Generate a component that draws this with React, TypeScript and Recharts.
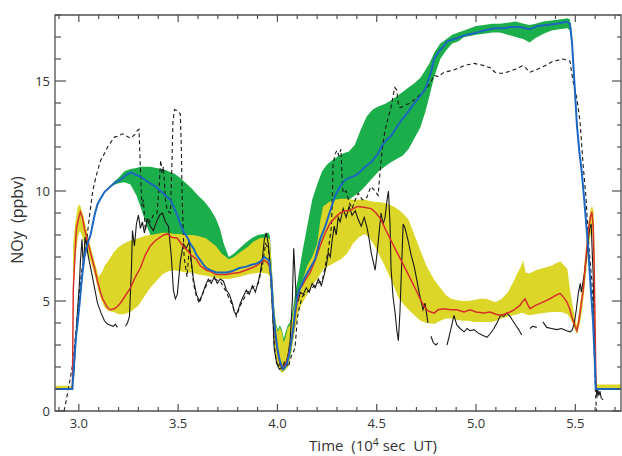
import React from "react";
import {
  ComposedChart,
  Area,
  Line,
  XAxis,
  YAxis,
  ReferenceArea
} from "recharts";

// model NOy, blue curve (x in 10^4 s UT, y in ppbv)
const blueModel: [number, number][] = [
  [2.88, 1.0], [2.967, 1.0], [2.975, 2.0], [2.985, 3.3], [2.995, 4.1], [3.005, 5.0], [3.015, 6.0],
  [3.028, 7.0], [3.043, 7.6], [3.059, 8.0], [3.079, 8.9], [3.094, 9.4], [3.109, 9.65], [3.129, 9.95],
  [3.159, 10.2], [3.185, 10.4], [3.209, 10.5], [3.235, 10.7], [3.26, 10.85], [3.285, 10.75], [3.31, 10.65],
  [3.335, 10.5], [3.36, 10.35], [3.386, 10.2], [3.411, 10.0], [3.436, 9.8], [3.461, 9.6], [3.476, 9.3],
  [3.496, 8.9], [3.511, 8.5], [3.53, 8.1], [3.546, 7.9], [3.561, 7.6], [3.577, 7.4], [3.592, 7.1],
  [3.612, 6.85], [3.627, 6.65], [3.642, 6.5], [3.662, 6.4], [3.692, 6.3], [3.72, 6.3], [3.743, 6.3],
  [3.77, 6.35], [3.808, 6.5], [3.84, 6.55], [3.87, 6.65], [3.894, 6.7], [3.915, 6.8], [3.934, 7.0],
  [3.949, 6.9], [3.959, 6.8], [3.969, 6.0], [3.979, 4.5], [3.989, 3.6], [3.999, 2.9], [4.009, 2.4],
  [4.019, 2.1], [4.029, 1.9], [4.039, 2.0], [4.049, 2.2], [4.06, 2.6], [4.07, 3.2], [4.08, 3.8],
  [4.09, 4.6], [4.1, 5.2], [4.11, 5.5], [4.125, 5.8], [4.14, 6.1], [4.165, 6.5], [4.19, 6.9],
  [4.215, 7.8], [4.241, 8.4], [4.266, 9.1], [4.291, 9.8], [4.316, 10.2], [4.341, 10.5], [4.361, 10.6],
  [4.392, 10.7], [4.407, 10.8], [4.442, 11.1], [4.472, 11.3], [4.507, 11.7], [4.522, 12.0], [4.557, 12.4],
  [4.572, 12.5], [4.608, 13.0], [4.623, 13.2], [4.658, 13.6], [4.673, 13.8], [4.708, 14.2], [4.743, 14.6],
  [4.773, 15.4], [4.789, 16.0], [4.809, 16.3], [4.839, 16.6], [4.854, 16.8], [4.889, 16.9], [4.919, 17.0],
  [4.955, 17.1], [5.005, 17.2], [5.04, 17.3], [5.091, 17.4], [5.141, 17.4], [5.171, 17.45], [5.221, 17.45],
  [5.272, 17.35], [5.307, 17.5], [5.357, 17.55], [5.408, 17.6], [5.458, 17.7], [5.473, 17.6], [5.483, 16.8],
  [5.495, 15.0], [5.508, 13.0], [5.52, 11.8], [5.532, 10.9], [5.545, 9.6], [5.554, 8.6], [5.564, 7.5],
  [5.576, 5.8], [5.589, 4.1], [5.597, 2.5], [5.603, 1.0], [5.73, 1.0]
];

// model NOy, red curve
const redModel: [number, number][] = [
  [2.88, 1.0], [2.968, 1.0], [2.972, 5.5], [2.98, 7.0], [2.988, 8.3], [3.0, 8.8], [3.008, 9.05],
  [3.018, 8.8], [3.028, 8.3], [3.043, 7.75], [3.059, 7.2], [3.069, 6.85], [3.084, 6.3], [3.094, 5.9],
  [3.109, 5.4], [3.12, 5.1], [3.144, 4.7], [3.159, 4.6], [3.179, 4.65], [3.194, 4.75], [3.209, 4.9],
  [3.235, 5.25], [3.26, 5.6], [3.285, 6.1], [3.31, 6.5], [3.335, 7.1], [3.36, 7.5], [3.386, 7.75],
  [3.411, 7.9], [3.426, 8.0], [3.446, 8.05], [3.466, 7.9], [3.496, 7.85], [3.521, 7.55], [3.546, 7.3],
  [3.571, 7.05], [3.592, 6.9], [3.612, 6.6], [3.642, 6.4], [3.662, 6.35], [3.692, 6.2], [3.72, 6.2],
  [3.743, 6.2], [3.77, 6.25], [3.808, 6.3], [3.84, 6.4], [3.87, 6.5], [3.894, 6.6], [3.915, 6.75],
  [3.934, 6.85], [3.949, 6.75], [3.959, 6.6], [3.969, 6.0], [3.979, 4.5], [3.989, 3.5], [3.999, 2.8],
  [4.009, 2.3], [4.019, 2.05], [4.029, 2.0], [4.039, 2.1], [4.049, 2.3], [4.06, 2.7], [4.07, 3.2],
  [4.08, 3.7], [4.09, 4.4], [4.1, 5.0], [4.11, 5.5], [4.125, 5.7], [4.14, 5.95], [4.165, 6.3],
  [4.19, 6.85], [4.215, 7.5], [4.241, 8.1], [4.266, 8.55], [4.291, 8.8], [4.316, 9.0], [4.341, 9.1],
  [4.361, 9.1], [4.392, 9.25], [4.407, 9.3], [4.442, 9.25], [4.472, 9.2], [4.497, 9.0], [4.522, 8.7],
  [4.547, 8.2], [4.572, 7.75], [4.597, 7.3], [4.623, 6.85], [4.648, 6.4], [4.673, 5.95], [4.698, 5.5],
  [4.723, 5.0], [4.743, 4.7], [4.758, 4.55], [4.773, 4.5], [4.789, 4.45], [4.809, 4.6], [4.839, 4.65],
  [4.87, 4.6], [4.904, 4.6], [4.94, 4.5], [4.97, 4.6], [5.0, 4.5], [5.04, 4.45], [5.07, 4.5],
  [5.1, 4.4], [5.12, 4.35], [5.141, 4.4], [5.171, 4.5], [5.191, 4.6], [5.221, 4.8], [5.232, 4.95],
  [5.247, 5.1], [5.26, 4.85], [5.272, 4.65], [5.3, 4.8], [5.337, 4.95], [5.372, 5.1], [5.4, 5.25],
  [5.423, 5.35], [5.438, 5.2], [5.458, 4.95], [5.473, 4.6], [5.485, 4.2], [5.497, 3.9], [5.508, 3.65],
  [5.52, 4.2], [5.53, 4.9], [5.54, 5.5], [5.553, 6.9], [5.566, 8.2], [5.575, 8.8], [5.583, 9.05],
  [5.59, 8.4], [5.595, 6.5], [5.6, 3.5], [5.604, 1.1], [5.61, 1.0], [5.73, 1.0]
];

// spread around the blue curve: x, low, high
const greenBand: [number, number, number][] = [
  [3.17, 10.25, 10.35], [3.2, 10.35, 10.6], [3.23, 10.4, 10.9], [3.26, 10.3, 11.0], [3.29, 9.8, 11.05],
  [3.31, 9.3, 11.1], [3.335, 8.6, 11.1], [3.36, 8.0, 11.1], [3.39, 7.8, 11.05], [3.42, 7.7, 11.0],
  [3.45, 7.6, 10.9], [3.48, 7.5, 10.8], [3.51, 7.4, 10.6], [3.54, 7.2, 10.35], [3.57, 7.0, 10.1],
  [3.6, 6.7, 9.8], [3.63, 6.5, 9.55], [3.66, 6.3, 9.2], [3.69, 6.2, 8.75], [3.71, 6.2, 8.3],
  [3.73, 6.2, 7.6], [3.755, 6.2, 7.0], [3.78, 6.3, 7.15], [3.81, 6.35, 7.4], [3.84, 6.4, 7.65],
  [3.87, 6.5, 7.85], [3.9, 6.55, 8.0], [3.93, 6.6, 8.05], [3.955, 6.6, 8.1], [3.962, 6.4, 7.95],
  [3.972, 4.6, 6.5], [3.982, 3.3, 4.9], [3.992, 2.5, 4.0], [4.002, 2.0, 3.7], [4.012, 1.85, 3.9],
  [4.022, 1.75, 3.7], [4.032, 1.8, 3.3], [4.042, 1.9, 3.6], [4.052, 2.0, 3.9], [4.062, 2.3, 4.0],
  [4.072, 2.8, 4.3], [4.082, 3.4, 4.9], [4.092, 3.9, 5.5], [4.105, 4.5, 6.1], [4.125, 5.0, 7.2],
  [4.15, 5.4, 8.4], [4.175, 5.8, 9.6], [4.2, 6.2, 10.3], [4.225, 6.8, 10.9], [4.25, 7.4, 11.2],
  [4.276, 8.1, 11.4], [4.3, 8.7, 11.55], [4.33, 9.2, 11.7], [4.36, 9.6, 11.8], [4.39, 9.8, 12.1],
  [4.42, 10.0, 12.8], [4.45, 10.3, 13.4], [4.48, 10.6, 13.7], [4.51, 10.9, 13.85], [4.54, 11.1, 13.95],
  [4.57, 11.3, 14.1], [4.6, 11.45, 14.3], [4.63, 11.6, 14.5], [4.66, 11.9, 14.7], [4.69, 12.4, 14.9],
  [4.72, 12.9, 15.15], [4.745, 13.6, 15.5], [4.765, 14.3, 15.8], [4.79, 15.2, 16.3], [4.82, 16.0, 16.7],
  [4.85, 16.4, 16.9], [4.88, 16.7, 17.1], [4.91, 16.8, 17.2], [4.94, 17.0, 17.3], [4.97, 17.05, 17.4],
  [5.0, 17.1, 17.5], [5.04, 17.15, 17.55], [5.08, 17.2, 17.6], [5.12, 17.2, 17.6], [5.16, 17.1, 17.65],
  [5.2, 17.0, 17.7], [5.24, 16.9, 17.6], [5.27, 16.75, 17.55], [5.3, 16.95, 17.6], [5.34, 17.15, 17.7],
  [5.38, 17.3, 17.75], [5.42, 17.35, 17.8], [5.46, 17.4, 17.85], [5.473, 17.3, 17.8], [5.483, 16.6, 17.0]
];

// spread around the red curve: x, low, high
const yellowBand: [number, number, number][] = [
  [2.88, 0.95, 1.15], [2.968, 0.95, 1.15], [2.972, 5.2, 7.6], [2.983, 7.0, 8.6], [2.995, 7.9, 9.3],
  [3.005, 8.2, 9.4], [3.015, 8.0, 9.1], [3.025, 7.7, 8.8], [3.04, 7.2, 8.2], [3.055, 6.9, 7.6],
  [3.07, 6.5, 7.1], [3.085, 6.0, 6.6], [3.1, 5.4, 6.1], [3.115, 5.0, 6.3], [3.13, 4.7, 6.6],
  [3.15, 4.55, 6.85], [3.175, 4.5, 7.2], [3.2, 4.4, 7.45], [3.225, 4.4, 7.6], [3.26, 4.5, 7.75],
  [3.3, 4.8, 7.85], [3.33, 5.2, 7.95], [3.36, 5.6, 8.0], [3.39, 5.9, 8.05], [3.42, 6.2, 8.1],
  [3.45, 6.35, 8.1], [3.48, 6.4, 8.05], [3.51, 6.35, 8.05], [3.54, 6.3, 8.0], [3.57, 6.3, 8.0],
  [3.6, 6.2, 7.95], [3.64, 6.15, 7.85], [3.69, 6.05, 7.5], [3.72, 6.0, 7.15], [3.755, 6.0, 6.9],
  [3.78, 6.05, 7.0], [3.81, 6.1, 7.2], [3.85, 6.2, 7.45], [3.88, 6.25, 7.7], [3.91, 6.3, 7.85],
  [3.95, 6.25, 7.9], [3.962, 6.1, 7.8], [3.972, 4.6, 6.4], [3.982, 3.3, 4.8], [3.992, 2.5, 3.9],
  [4.002, 2.0, 3.6], [4.012, 1.85, 3.8], [4.022, 1.75, 3.6], [4.032, 1.8, 3.1], [4.042, 1.9, 3.4],
  [4.052, 2.0, 3.8], [4.062, 2.3, 3.9], [4.072, 2.8, 4.1], [4.082, 3.4, 4.6], [4.092, 3.9, 5.1],
  [4.105, 4.5, 5.4], [4.125, 4.9, 5.9], [4.15, 5.3, 6.6], [4.175, 5.7, 7.0], [4.2, 6.0, 7.6],
  [4.215, 6.2, 8.6], [4.23, 6.45, 9.3], [4.26, 6.6, 9.5], [4.29, 6.75, 9.6], [4.32, 6.9, 9.65],
  [4.35, 7.15, 9.65], [4.38, 7.6, 9.6], [4.41, 7.9, 9.6], [4.44, 8.05, 9.6], [4.465, 7.85, 9.55],
  [4.49, 7.5, 9.5], [4.51, 7.15, 9.5], [4.54, 6.6, 9.45], [4.56, 6.2, 9.4], [4.585, 5.7, 9.3],
  [4.61, 5.15, 9.15], [4.635, 4.85, 8.95], [4.66, 4.6, 8.7], [4.69, 4.35, 8.0], [4.72, 4.1, 7.3],
  [4.75, 4.0, 6.6], [4.79, 3.95, 5.95], [4.82, 4.1, 5.6], [4.85, 4.2, 5.25], [4.875, 4.2, 5.1],
  [4.9, 4.15, 5.05], [4.93, 4.1, 5.0], [4.96, 4.1, 5.0], [4.99, 4.05, 5.05], [5.02, 4.05, 5.1],
  [5.05, 4.05, 5.1], [5.08, 4.05, 5.0], [5.1, 4.1, 4.95], [5.13, 4.2, 5.1], [5.16, 4.3, 5.4],
  [5.19, 4.35, 5.9], [5.21, 4.4, 6.3], [5.225, 4.45, 6.55], [5.237, 4.45, 6.85], [5.25, 4.4, 6.3],
  [5.27, 4.35, 6.25], [5.3, 4.4, 6.4], [5.34, 4.45, 6.5], [5.38, 4.5, 6.6], [5.41, 4.5, 6.75],
  [5.425, 4.5, 6.8], [5.445, 4.45, 6.6], [5.46, 4.4, 6.45], [5.475, 4.2, 5.4], [5.49, 3.9, 4.6],
  [5.5, 3.65, 4.1], [5.508, 3.5, 3.9], [5.52, 3.85, 4.6], [5.535, 4.6, 5.6], [5.55, 5.9, 7.1],
  [5.565, 7.3, 8.5], [5.578, 8.1, 9.2], [5.585, 8.3, 9.3], [5.592, 7.0, 9.1], [5.598, 3.5, 7.0],
  [5.603, 1.0, 1.6], [5.61, 0.95, 1.2], [5.73, 0.95, 1.2]
];

// measured NOy, solid black (null = data gap)
const obsSolid: [number, number | null][] = [
  [2.973, 1.5], [2.983, 3.0], [2.993, 4.5], [3.003, 5.8], [3.008, 6.8], [3.016, 7.8], [3.023, 6.5],
  [3.031, 7.9], [3.038, 7.6], [3.048, 7.0], [3.062, 6.4], [3.079, 5.6], [3.094, 4.9], [3.112, 4.45],
  [3.129, 4.1], [3.144, 3.95], [3.159, 3.9], [3.174, 3.85], [3.184, 3.95], [3.194, 3.8], [3.2, null],
  [3.235, 3.85], [3.245, 4.0], [3.255, 4.3], [3.265, 6.5], [3.27, 8.2], [3.28, 7.5], [3.29, 8.5],
  [3.3, 8.9], [3.31, 8.3], [3.32, 8.6], [3.33, 8.1], [3.345, 8.7], [3.36, 8.4], [3.375, 8.2],
  [3.391, 8.6], [3.406, 8.9], [3.421, 9.0], [3.436, 8.6], [3.451, 8.4], [3.466, 7.0], [3.476, 5.5],
  [3.486, 5.1], [3.496, 5.3], [3.511, 6.8], [3.526, 7.6], [3.541, 7.4], [3.556, 7.7], [3.566, 6.8],
  [3.577, 6.0], [3.592, 5.3], [3.607, 5.0], [3.622, 5.3], [3.637, 5.7], [3.652, 6.0], [3.667, 5.8],
  [3.682, 6.1], [3.697, 5.8], [3.712, 6.0], [3.728, 5.9], [3.743, 5.5], [3.758, 5.3], [3.773, 4.9],
  [3.783, 4.5], [3.793, 4.4], [3.803, 4.6], [3.813, 4.9], [3.828, 5.2], [3.843, 5.5], [3.858, 5.3],
  [3.874, 5.7], [3.889, 5.4], [3.904, 5.9], [3.914, 6.3], [3.924, 6.9], [3.934, 7.8], [3.944, 8.1],
  [3.954, 7.6], [3.964, 6.6], [3.974, 5.0], [3.984, 2.8], [3.994, 2.3], [4.004, 2.0], [4.014, 2.2],
  [4.024, 1.9], [4.034, 2.1], [4.044, 2.2], [4.054, 2.6], [4.064, 3.2], [4.075, 5.0], [4.082, 7.4],
  [4.09, 6.0], [4.095, 5.0], [4.105, 5.0], [4.115, 5.4], [4.13, 5.3], [4.145, 5.6], [4.16, 5.4],
  [4.175, 5.8], [4.19, 5.6], [4.206, 6.0], [4.221, 5.7], [4.236, 6.2], [4.246, 6.6], [4.256, 7.2],
  [4.266, 7.0], [4.276, 7.8], [4.286, 8.4], [4.296, 8.0], [4.306, 8.8], [4.316, 8.6], [4.331, 9.2],
  [4.346, 8.8], [4.361, 9.3], [4.376, 8.9], [4.392, 9.1], [4.407, 8.7], [4.422, 8.4], [4.437, 8.8],
  [4.452, 8.3], [4.462, 7.8], [4.472, 7.2], [4.482, 6.8], [4.492, 6.4], [4.502, 7.2], [4.512, 8.1],
  [4.522, 9.0], [4.532, 8.5], [4.542, 8.8], [4.552, 9.6], [4.559, 10.0], [4.567, 8.5], [4.572, 6.5],
  [4.582, 5.2], [4.592, 4.5], [4.602, 3.6], [4.609, 3.2], [4.617, 4.5], [4.625, 6.5], [4.633, 8.5],
  [4.643, 8.3], [4.658, 7.75], [4.673, 7.1], [4.688, 6.6], [4.703, 5.9], [4.713, 5.4], [4.723, 5.0],
  [4.733, 4.6], [4.743, 4.9], [4.753, 4.3], [4.758, 4.0], [4.765, null], [4.773, 3.4], [4.785, 3.1],
  [4.798, 3.0], [4.808, 3.1], [4.83, null], [4.854, 3.0], [4.865, 3.4], [4.874, 3.75], [4.889, 4.35],
  [4.897, 4.1], [4.904, 3.9], [4.92, 3.75], [4.94, 3.6], [4.955, 3.75], [4.97, 3.65], [4.99, 3.7],
  [5.01, 3.55], [5.03, 3.45], [5.055, 3.35], [5.07, 3.5], [5.09, 3.75], [5.105, 4.0], [5.124, 4.35],
  [5.14, 4.3], [5.155, 4.45], [5.171, 4.3], [5.185, 4.1], [5.2, 3.9], [5.215, 3.7], [5.23, 3.45],
  [5.25, null], [5.272, 3.75], [5.285, 3.85], [5.306, 3.8], [5.32, null], [5.337, 4.05], [5.356, 3.8],
  [5.38, 3.75], [5.406, 3.7], [5.43, 3.75], [5.456, 3.65], [5.475, 3.6], [5.485, 3.7], [5.495, 4.0],
  [5.505, 4.6], [5.515, 5.35], [5.525, 5.8], [5.53, 5.4], [5.545, 6.2], [5.56, 7.3], [5.572, 8.3],
  [5.58, 8.5], [5.586, 7.0], [5.59, 6.2], [5.595, 4.0], [5.6, 2.0], [5.604, 1.2], [5.609, 0.6],
  [5.613, 1.0], [5.618, 0.7], [5.624, 0.9], [5.63, 0.6], [5.64, 0.5]
];

// measured NOy, dashed black
const obsDashed: [number, number][] = [
  [2.925, 0.0], [2.935, 0.4], [2.945, 0.9], [2.955, 1.4], [2.965, 1.9], [2.975, 2.6], [2.985, 3.6],
  [2.995, 4.6], [3.005, 5.6], [3.015, 6.4], [3.028, 7.0], [3.04, 7.8], [3.05, 8.6], [3.06, 9.3],
  [3.07, 10.0], [3.085, 10.6], [3.097, 11.0], [3.11, 11.4], [3.129, 11.7], [3.145, 12.0], [3.16, 12.2],
  [3.179, 12.45], [3.2, 12.5], [3.22, 12.6], [3.24, 12.5], [3.26, 12.4], [3.28, 12.55], [3.295, 12.75],
  [3.303, 12.8], [3.31, 11.0], [3.318, 9.3], [3.325, 9.6], [3.335, 8.2], [3.345, 8.8], [3.36, 8.6],
  [3.375, 8.9], [3.394, 9.0], [3.405, 10.3], [3.412, 11.4], [3.42, 10.8], [3.426, 11.1], [3.436, 9.6],
  [3.446, 9.1], [3.461, 9.0], [3.468, 11.0], [3.474, 13.2], [3.482, 13.7], [3.496, 13.65], [3.511, 13.5],
  [3.516, 12.0], [3.521, 9.5], [3.53, 7.0], [3.545, 6.1], [3.556, 7.4], [3.566, 6.8], [3.577, 5.8],
  [3.592, 5.2], [3.607, 4.9], [3.622, 5.3], [3.652, 5.9], [3.682, 6.0], [3.712, 5.9], [3.743, 5.4],
  [3.773, 4.8], [3.793, 4.3], [3.813, 4.8], [3.843, 5.3], [3.874, 5.6], [3.904, 5.8], [3.924, 6.6],
  [3.94, 7.6], [3.954, 7.4], [3.964, 6.4], [3.974, 4.8], [3.984, 3.0], [3.994, 2.2], [4.01, 1.9],
  [4.024, 2.0], [4.04, 2.3], [4.055, 2.0], [4.07, 2.5], [4.082, 2.7], [4.09, 3.0], [4.1, 4.2],
  [4.11, 4.7], [4.125, 5.2], [4.15, 5.4], [4.175, 5.6], [4.2, 5.8], [4.225, 5.9], [4.241, 6.6],
  [4.256, 7.3], [4.271, 8.3], [4.276, 9.5], [4.28, 11.2], [4.291, 11.7], [4.3, 11.85], [4.31, 11.6],
  [4.32, 11.9], [4.326, 10.5], [4.331, 9.9], [4.346, 10.0], [4.361, 9.5], [4.376, 9.2], [4.392, 9.6],
  [4.407, 9.9], [4.427, 9.6], [4.45, 9.7], [4.47, 10.2], [4.492, 10.0], [4.507, 9.8], [4.522, 11.4],
  [4.532, 12.2], [4.542, 12.75], [4.557, 13.3], [4.572, 13.8], [4.582, 14.3], [4.591, 14.7], [4.6, 14.6],
  [4.608, 14.0], [4.616, 13.8], [4.623, 13.8], [4.64, 13.9], [4.658, 13.95], [4.683, 14.1], [4.708, 14.3],
  [4.733, 14.5], [4.758, 14.75], [4.775, 15.0], [4.789, 15.25], [4.81, 15.2], [4.839, 15.4], [4.865, 15.45],
  [4.889, 15.5], [4.915, 15.6], [4.94, 15.7], [4.965, 15.75], [4.99, 15.8], [5.015, 15.75], [5.04, 15.7],
  [5.071, 15.6], [5.096, 15.4], [5.12, 15.35], [5.141, 15.35], [5.171, 15.45], [5.2, 15.55], [5.236, 15.7],
  [5.255, 15.55], [5.272, 15.4], [5.3, 15.5], [5.337, 15.65], [5.36, 15.75], [5.388, 15.9], [5.415, 15.95],
  [5.438, 16.0], [5.455, 15.95], [5.473, 15.9], [5.488, 15.0], [5.508, 14.2], [5.524, 13.15], [5.539, 11.2],
  [5.554, 9.7], [5.566, 7.75], [5.574, 6.85], [5.583, 5.95], [5.59, 4.5], [5.596, 2.5], [5.601, 1.0],
  [5.606, 0.0]
];

const xTicks = [
  2.9, 3.0, 3.1, 3.2, 3.3, 3.4, 3.5, 3.6, 3.7, 3.8, 3.9, 4.0, 4.1, 4.2,
  4.3, 4.4, 4.5, 4.6, 4.7, 4.8, 4.9, 5.0, 5.1, 5.2, 5.3, 5.4, 5.5, 5.6, 5.7
];
const xLabels = [3.0, 3.5, 4.0, 4.5, 5.0, 5.5];
const yTicks = [0, 1, 2, 3, 4, 5, 6, 7, 8, 9, 10, 11, 12, 13, 14, 15, 16, 17, 18];
const yLabels = [0, 5, 10, 15];

const X_DOMAIN: [number, number] = [2.88, 5.73];
const Y_DOMAIN: [number, number] = [0, 18];

const PLOT_LEFT = 55;
const PLOT_RIGHT = 621;
const PLOT_TOP = 15;
const PLOT_BOTTOM = 411;
const AXIS_COLOR = "#505050";
const TEXT_COLOR = "#333";
const FONT = "'Open Sans', 'Noto Sans', sans-serif";

const toLine = (pts: [number, number | null][]) => pts.map(([x, y]) => ({ x, y }));
const toBand = (pts: [number, number, number][]) =>
  pts.map(([x, lo, hi]) => ({ x, range: [lo, hi] }));

function XTick(props: any) {
  const { x, payload } = props;
  const v = payload.value;
  const major = xLabels.some((m) => Math.abs(m - v) < 1e-6);
  const len = major ? 7 : 4;
  return (
    <g>
      <line x1={x} x2={x} y1={PLOT_BOTTOM} y2={PLOT_BOTTOM - len} stroke={AXIS_COLOR} strokeWidth={1.2} />
      <line x1={x} x2={x} y1={PLOT_TOP} y2={PLOT_TOP + len} stroke={AXIS_COLOR} strokeWidth={1.2} />
      {major && (
        <text x={x} y={PLOT_BOTTOM + 17} textAnchor="middle" fontSize={13} fill={TEXT_COLOR} fontFamily={FONT}>
          {v.toFixed(1)}
        </text>
      )}
    </g>
  );
}

function YTick(props: any) {
  const { y, payload } = props;
  const v = payload.value;
  const major = yLabels.includes(v);
  const len = major ? 11 : 6;
  return (
    <g>
      <line x1={PLOT_LEFT} x2={PLOT_LEFT + len} y1={y} y2={y} stroke={AXIS_COLOR} strokeWidth={1.2} />
      <line x1={PLOT_RIGHT - len + 2} x2={PLOT_RIGHT} y1={y} y2={y} stroke={AXIS_COLOR} strokeWidth={1.2} />
      {major && (
        <text x={PLOT_LEFT - 5} y={y + 4.5} textAnchor="end" fontSize={13} fill={TEXT_COLOR} fontFamily={FONT}>
          {v}
        </text>
      )}
    </g>
  );
}

function XTitle() {
  return (
    <text x={373} y={451} textAnchor="middle" fontSize={15} fill={TEXT_COLOR} fontFamily={FONT} style={{ whiteSpace: "pre" }}>
      <tspan>{"Time  (10"}</tspan>
      <tspan dy={-5} fontSize={10.5}>4</tspan>
      <tspan dy={5}>{" sec  UT)"}</tspan>
    </text>
  );
}

function YTitle() {
  return (
    <text
      x={23}
      y={220}
      transform="rotate(-90 23 220)"
      textAnchor="middle"
      fontSize={16}
      fill={TEXT_COLOR}
      fontFamily={FONT}
      style={{ whiteSpace: "pre" }}
    >
      {"NOy  (ppbv)"}
    </text>
  );
}

export default function App() {
  return (
    <div style={{ position: "fixed", left: 0, top: 0, width: 622, height: 456, background: "#fff" }}>
      <ComposedChart width={622} height={456} margin={{ top: 15, right: 1, bottom: 0, left: 0 }}>
        <XAxis
          dataKey="x"
          type="number"
          domain={X_DOMAIN}
          ticks={xTicks}
          interval={0}
          tick={XTick}
          tickLine={false}
          axisLine={false}
          height={45}
          allowDataOverflow
          label={<XTitle />}
        />
        <YAxis
          type="number"
          domain={Y_DOMAIN}
          ticks={yTicks}
          interval={0}
          tick={YTick}
          tickLine={false}
          axisLine={false}
          width={55}
          allowDataOverflow
          label={<YTitle />}
        />
        <Area
          data={toBand(greenBand)}
          dataKey="range"
          type="linear"
          stroke="none"
          fill="#1cae4b"
          fillOpacity={1}
          isAnimationActive={false}
        />
        <Area
          data={toBand(yellowBand)}
          dataKey="range"
          type="linear"
          stroke="none"
          fill="#dcd629"
          fillOpacity={1}
          isAnimationActive={false}
        />
        <Line
          data={toLine(obsDashed)}
          dataKey="y"
          type="linear"
          stroke="#1a1a1a"
          strokeWidth={1.1}
          strokeDasharray="4 3"
          dot={false}
          activeDot={false}
          isAnimationActive={false}
        />
        <Line
          data={toLine(obsSolid)}
          dataKey="y"
          type="linear"
          stroke="#1a1a1a"
          strokeWidth={1.1}
          dot={false}
          activeDot={false}
          isAnimationActive={false}
        />
        <Line
          data={toLine(redModel)}
          dataKey="y"
          type="linear"
          stroke="#d6302b"
          strokeWidth={1.5}
          dot={false}
          activeDot={false}
          isAnimationActive={false}
        />
        <Line
          data={toLine(blueModel)}
          dataKey="y"
          type="linear"
          stroke="#1b66bf"
          strokeWidth={2}
          dot={false}
          activeDot={false}
          isAnimationActive={false}
        />
        <ReferenceArea
          x1={X_DOMAIN[0]}
          x2={X_DOMAIN[1]}
          y1={Y_DOMAIN[0]}
          y2={Y_DOMAIN[1]}
          fill="none"
          stroke={AXIS_COLOR}
          strokeWidth={1.3}
          ifOverflow="visible"
        />
      </ComposedChart>
    </div>
  );
}
